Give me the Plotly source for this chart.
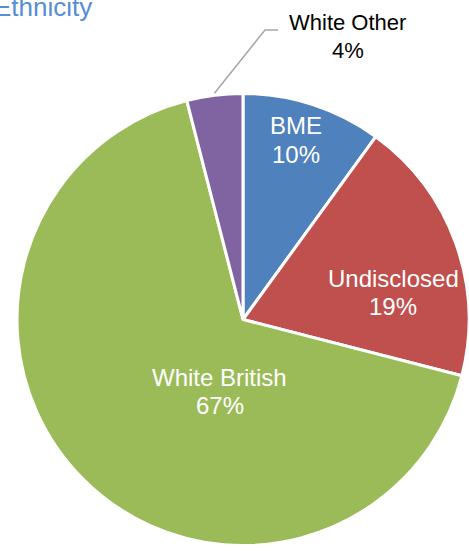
import math
import plotly.graph_objects as go

labels = ["BME", "Undisclosed", "White British", "White Other"]
values = [10, 19, 67, 4]
colors = ["#4F81BD", "#C0504D", "#9BBB59", "#8064A2"]
title_text = "Ethnicity"

W, H = 469, 551
FONT = "Liberation Sans, Arial, sans-serif"

# pie placement in pixels
dom_left_px = 17
R = (W - dom_left_px) / 2
cx = dom_left_px + R
cy = 319.5

dom_x = [dom_left_px / W, 1.0]
dom_y = [(H - (cy + R + 5)) / H, (H - (cy - R - 5)) / H]

# label layout (pixel centres of the name line and the percent line)
label_pos = [
    (296, 126, 154),
    (393, 278.5, 306.5),
    (219.5, 377.5, 405.5),
    (347.5, 22.5, 50.5),
]
label_color = ["white", "white", "white", "black"]
label_size = [24, 24, 24, 22]

fig = go.Figure(go.Pie(
    labels=labels,
    values=values,
    sort=False,
    direction="clockwise",
    rotation=0,
    marker=dict(colors=colors, line=dict(color="white", width=3)),
    textinfo="none",
    domain=dict(x=dom_x, y=dom_y),
    hoverinfo="label+percent",
    showlegend=False,
))


def px(x):
    return x / W


def py(y):
    return 1 - y / H


for lab, val, (lx, ly1, ly2), col, sz in zip(labels, values, label_pos, label_color, label_size):
    for txt, ly in ((lab, ly1), (f"{val}%", ly2)):
        fig.add_annotation(
            xref="paper", yref="paper",
            x=px(lx), y=py(ly),
            text=txt, showarrow=False,
            font=dict(color=col, size=sz, family=FONT),
            xanchor="center", yanchor="middle",
        )

# leader line for the small slice, starting at its mid-angle
total = sum(values)
start = sum(values[:-1]) / total
mid = (start + values[-1] / total / 2) * 2 * math.pi
r0 = R + 2
x0 = cx + r0 * math.sin(mid)
y0 = cy - r0 * math.cos(mid)
elbow = (265, 30)
end = (278, 30)

fig.add_shape(
    type="path",
    xref="paper", yref="paper",
    path=f"M {px(x0)} {py(y0)} L {px(elbow[0])} {py(elbow[1])} L {px(end[0])} {py(end[1])}",
    line=dict(color="#A6A6A6", width=1.5),
)

fig.add_annotation(
    xref="paper", yref="paper",
    x=0, y=1, xanchor="left", yanchor="top",
    xshift=-8, yshift=10,
    text=title_text,
    showarrow=False,
    font=dict(color="#558ED5", size=26, family=FONT),
)

fig.update_layout(
    width=W, height=H,
    margin=dict(l=0, r=0, t=0, b=0),
    paper_bgcolor="white",
    plot_bgcolor="white",
)

fig.write_html("out.html")
